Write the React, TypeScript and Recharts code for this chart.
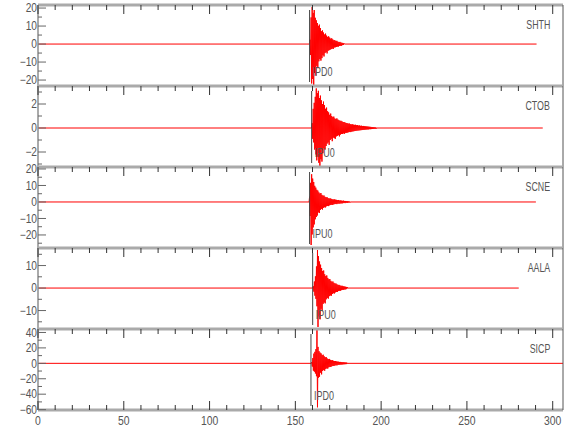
import React from 'react';
import { LineChart, Line, XAxis, YAxis, ReferenceLine } from 'recharts';

const stationNames = ['SHTH', 'CTOB', 'SCNE', 'AALA', 'SICP'];
const phaseNames = ['IPD0', 'IPU0', 'IPU0', 'IPU0', 'IPD0'];
const pickTimes = [158.3, 159.5, 158.3, 160.1, 159.1];
const onsetTimes = [158.6, 159.8, 158.3, 160.5, 159.6];
const traceEnds = [290.6, 294.2, 290.2, 280.2, 306];
const sampleStep = 0.3;

const timeDomain = [0, 306];
const timeTicks = [0, 10, 20, 30, 40, 50, 60, 70, 80, 90, 100, 110, 120, 130, 140, 150, 160, 170, 180, 190, 200, 210, 220, 230, 240, 250, 260, 270, 280, 290, 300];
const timeLabelStep = 50;

// amplitude samples after onset
const shthSamples = [2.4, -6.1, 14.8, -21.9, 20.6, -19.4, 17.3, -22.8, 18.9, -16.1, 14.6, -17.5, 13.2, -12.1, 11.7, -13.4, 10.1, -9.6, 10.8, -8.3, 8.9, -9.2, 7.1, -7.8, 7.6, -6.2, 6.4, -6.9, 5.3, -5.0, 5.8, -4.4, 4.7, -5.2, 4.0, -3.7, 4.3, -3.4, 3.6, -3.1, 3.0, -2.8, 3.2, -2.5, 2.6, -2.7, 2.1, -1.9, 2.2, -1.8, 1.7, -1.6, 1.8, -1.4, 1.3, -1.4, 1.1, -1.0, 1.2, -0.9, 0.8, -0.9, 0.7, -0.6, 0.6, -0.5, 0.4];
const ctobSamples = [0.4, -0.9, 1.6, -1.2, 2.1, -1.8, 2.6, -2.2, 3.3, -2.7, 2.9, -2.4, 3.1, -2.9, 2.5, -3.2, 2.7, -2.6, 2.3, -2.8, 2.0, -2.1, 2.2, -1.7, 1.9, -1.8, 1.6, -1.5, 1.7, -1.3, 1.4, -1.2, 1.3, -1.4, 1.1, -1.0, 1.2, -0.9, 1.0, -1.1, 0.9, -0.8, 0.95, -0.85, 0.8, -0.9, 0.75, -0.7, 0.8, -0.65, 0.7, -0.6, 0.65, -0.7, 0.6, -0.55, 0.6, -0.5, 0.55, -0.5, 0.5, -0.45, 0.5, -0.48, 0.45, -0.4, 0.42, -0.4, 0.4, -0.38, 0.36, -0.35, 0.38, -0.33, 0.32, -0.34, 0.3, -0.3, 0.31, -0.28, 0.28, -0.27, 0.26, -0.25, 0.27, -0.24, 0.23, -0.22, 0.24, -0.21, 0.2, -0.2, 0.21, -0.19, 0.18, -0.18, 0.19, -0.17, 0.16, -0.16, 0.17, -0.15, 0.15, -0.14, 0.14, -0.13, 0.13, -0.12, 0.12, -0.12, 0.11, -0.1, 0.1, -0.1, 0.09, -0.09, 0.08, -0.08, 0.08, -0.07, 0.07, -0.06, 0.06, -0.06, 0.05, -0.05];
const scneSamples = [3.2, -8.5, 11.6, -26.1, 16.8, -19.7, 14.2, -15.4, 12.1, -13.6, 9.8, -10.5, 8.7, -9.1, 7.4, -8.2, 6.9, -6.3, 5.8, -6.7, 5.1, -4.8, 5.4, -4.2, 4.3, -4.6, 3.8, -3.5, 3.9, -3.2, 3.1, -3.3, 2.8, -2.6, 2.9, -2.4, 2.3, -2.5, 2.1, -2.0, 2.2, -1.8, 1.9, -1.7, 1.6, -1.8, 1.5, -1.4, 1.6, -1.3, 1.4, -1.2, 1.3, -1.3, 1.1, -1.0, 1.2, -1.0, 0.9, -1.0, 0.9, -0.8, 0.8, -0.9, 0.7, -0.7, 0.8, -0.6, 0.6, -0.7, 0.6, -0.5, 0.5, -0.6, 0.5, -0.4, 0.4, -0.4, 0.3, -0.3];
const aalaSamples = [0.8, -1.6, 2.9, -3.4, 5.2, -4.8, 9.6, -8.1, 16.9, -17.3, 14.2, -12.6, 11.8, -13.9, 10.4, -9.2, 8.9, -10.1, 7.6, -7.0, 7.8, -6.4, 6.1, -6.8, 5.3, -5.0, 5.6, -4.4, 4.5, -4.7, 3.9, -3.6, 4.0, -3.3, 3.2, -3.4, 2.8, -2.6, 2.9, -2.3, 2.3, -2.4, 2.0, -1.9, 2.0, -1.7, 1.6, -1.7, 1.4, -1.3, 1.4, -1.2, 1.1, -1.2, 1.0, -0.9, 1.0, -0.8, 0.8, -0.8, 0.7, -0.6, 0.6, -0.6, 0.5, -0.4, 0.4];
const sicpSamples = [1.5, -4.2, 6.8, -9.5, 12.6, -10.8, 14.9, -13.2, 18.4, -16.7, 44.0, -57.0, 21.3, -18.6, 15.7, -17.4, 13.9, -12.1, 12.8, -14.3, 10.6, -9.8, 11.2, -8.7, 9.1, -9.6, 7.8, -7.2, 8.0, -6.5, 6.2, -6.8, 5.4, -5.1, 5.7, -4.6, 4.5, -4.8, 3.9, -3.7, 4.0, -3.4, 3.3, -3.5, 2.9, -2.7, 3.0, -2.5, 2.4, -2.6, 2.2, -2.0, 2.1, -1.9, 1.8, -1.7, 1.8, -1.6, 1.5, -1.5, 1.4, -1.3, 1.4, -1.2, 1.2, -1.1, 1.1, -1.0, 1.0, -0.9];
const traceSamples = [shthSamples, ctobSamples, scneSamples, aalaSamples, sicpSamples];

const amplitudeDomains = [[-23.3, 21.7], [-3.25, 3.5], [-27.9, 21.2], [-18.2, 17.8], [-60.5, 44.5]];
const amplitudeTicks = [
  [-20, -15, -10, -5, 0, 5, 10, 15, 20],
  [-3, -2, -1, 0, 1, 2, 3],
  [-25, -20, -15, -10, -5, 0, 5, 10, 15, 20],
  [-15, -10, -5, 0, 5, 10, 15],
  [-60, -50, -40, -30, -20, -10, 0, 10, 20, 30, 40],
];
const amplitudeLabelStep = [10, 2, 10, 10, 20];

const FONT = "'Liberation Sans', Arial, sans-serif";
const PANEL_TOP = 5;
const PANEL_H = 81;
const PAD = 8;
const AXIS_GRAY = '#666';

function buildTrace(i: number) {
  const start = onsetTimes[i];
  const samples = traceSamples[i];
  const rows = [{ t: 0, v: 0 }, { t: start - sampleStep, v: 0 }];
  samples.forEach((v, k) => rows.push({ t: +(start + k * sampleStep).toFixed(2), v }));
  rows.push({ t: +(start + samples.length * sampleStep).toFixed(2), v: 0 });
  rows.push({ t: traceEnds[i], v: 0 });
  return rows;
}

const fmt = (v: number) => String(v).replace('-', '\u2212');

// narrow lettering like the plotting package's stroke font
function NarrowText({ x, y, anchor, size, squeeze, children }: any) {
  return (
    <text
      x={0}
      y={0}
      transform={`translate(${x} ${y}) scale(${squeeze} 1)`}
      textAnchor={anchor}
      fill="#555"
      fontSize={size}
      fontFamily={FONT}
    >
      {children}
    </text>
  );
}

function TopTick(props: any) {
  const { x, y, payload } = props;
  const major = payload.value % timeLabelStep === 0;
  return <line x1={x} x2={x} y1={y} y2={y + (major ? 9 : 5)} stroke="#333" />;
}

function BottomTick(props: any) {
  const { x, y, payload } = props;
  const major = payload.value % timeLabelStep === 0;
  return (
    <g>
      <line x1={x} x2={x} y1={y} y2={y - (major ? 9 : 5)} stroke="#333" />
      {major && (
        <NarrowText x={x} y={y + 15} anchor="middle" size={13} squeeze={0.8}>
          {payload.value}
        </NarrowText>
      )}
    </g>
  );
}

const leftTick = (step: number) => (props: any) => {
  const { x, y, payload } = props;
  const major = Math.abs(payload.value % step) < 1e-6;
  return (
    <g>
      <line x1={x} x2={x + (major ? 8 : 4)} y1={y} y2={y} stroke={AXIS_GRAY} />
      {major && (
        <NarrowText x={x - 1} y={y + 4.2} anchor="end" size={12} squeeze={0.85}>
          {fmt(payload.value)}
        </NarrowText>
      )}
    </g>
  );
};

const rightTick = (step: number) => (props: any) => {
  const { x, y, payload } = props;
  const major = Math.abs(payload.value % step) < 1e-6;
  return <line x1={x} x2={x - (major ? 8 : 4)} y1={y} y2={y} stroke={AXIS_GRAY} />;
};

const phaseLabel = (name: string) => (props: any) => {
  const vb = props.viewBox;
  if (!vb) return null;
  return (
    <NarrowText x={vb.x + 3} y={vb.y + vb.height - 10} anchor="start" size={12} squeeze={0.75}>
      {name}
    </NarrowText>
  );
};

const pickShape = (props: any) => (
  <line x1={props.x1} x2={props.x2} y1={props.y1 + 5} y2={props.y2 - 4} stroke="#444" strokeWidth={1} />
);

function Panel({ i }: { i: number }) {
  const last = i === stationNames.length - 1;
  const bottomH = last ? 24 : 0;
  const top = PANEL_TOP + i * PANEL_H;
  const h = PANEL_H + PAD + (last ? bottomH : PAD);
  return (
    <div style={{ position: 'absolute', left: 0, top: top - PAD, width: 580, height: h }}>
      <LineChart
        width={580}
        height={h}
        data={buildTrace(i)}
        margin={{ top: PAD - 1, right: 0, bottom: last ? 0 : PAD, left: 0 }}
      >
        <XAxis
          xAxisId="top"
          orientation="top"
          dataKey="t"
          type="number"
          domain={timeDomain}
          ticks={timeTicks}
          interval={0}
          height={1}
          tickSize={0}
          tickMargin={0}
          tickLine={false}
          tick={TopTick}
          axisLine={{ stroke: '#aaa', strokeWidth: 3 }}
        />
        {last && (
          <XAxis
            xAxisId="bottom"
            orientation="bottom"
            dataKey="t"
            type="number"
            domain={timeDomain}
            ticks={timeTicks}
            interval={0}
            height={bottomH}
            tickSize={0}
            tickMargin={0}
            tickLine={false}
            tick={BottomTick}
            axisLine={{ stroke: '#aaa', strokeWidth: 3 }}
          />
        )}
        <YAxis
          yAxisId="left"
          type="number"
          domain={amplitudeDomains[i]}
          ticks={amplitudeTicks[i]}
          interval={0}
          width={38}
          tickSize={0}
          tickMargin={0}
          tickLine={false}
          tick={leftTick(amplitudeLabelStep[i])}
          axisLine={{ stroke: '#aaa', strokeWidth: 2 }}
        />
        <YAxis
          yAxisId="right"
          orientation="right"
          type="number"
          domain={amplitudeDomains[i]}
          ticks={amplitudeTicks[i]}
          interval={0}
          width={17}
          tickSize={0}
          tickMargin={0}
          tickLine={false}
          tick={rightTick(amplitudeLabelStep[i])}
          axisLine={{ stroke: '#555', strokeWidth: 1 }}
        />
        <Line
          xAxisId="top"
          yAxisId="left"
          dataKey="v"
          stroke="#ff0000"
          strokeWidth={1}
          dot={false}
          isAnimationActive={false}
        />
        <ReferenceLine
          xAxisId="top"
          yAxisId="left"
          x={pickTimes[i]}
          shape={pickShape}
          label={phaseLabel(phaseNames[i])}
        />
      </LineChart>
      <div
        style={{
          position: 'absolute',
          right: 30,
          top: PAD + 13,
          fontFamily: FONT,
          fontSize: 13,
          lineHeight: '13px',
          color: '#555',
          transform: 'scaleX(0.68)',
          transformOrigin: 'right center',
        }}
      >
        {stationNames[i]}
      </div>
    </div>
  );
}

export default function App() {
  return (
    <div style={{ position: 'absolute', left: 0, top: 0, width: 580, height: 440, background: '#fff' }}>
      {stationNames.map((_, i) => (
        <Panel key={i} i={i} />
      ))}
    </div>
  );
}
